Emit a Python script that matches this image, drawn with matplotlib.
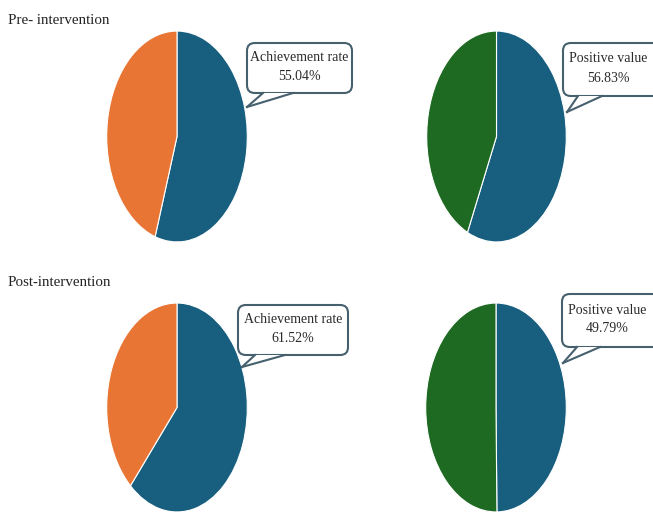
import matplotlib
matplotlib.use("Agg")
import matplotlib.pyplot as plt
from matplotlib.patches import FancyBboxPatch, Polygon
from matplotlib.lines import Line2D

# values (percent of the blue slice; the rest goes to the other slice)
phases = ["Pre- intervention", "Post-intervention"]
achievement = [55.04, 61.52]
positive = [56.83, 49.79]
labels = ["Achievement rate", "Positive value"]

BLUE = "#175e7f"
ORANGE = "#e87533"
GREEN = "#1e6a22"
EDGE = "#46606e"

W, H = 653, 514
fig = plt.figure(figsize=(W / 100, H / 100), dpi=100)
fig.patch.set_facecolor("white")
plt.rcParams["font.family"] = ["Liberation Serif", "DejaVu Serif"]


def px_axes(left, right, top, bottom):
    return fig.add_axes([left / W, 1 - bottom / H, (right - left) / W, (bottom - top) / H])


def callout(box, tip, base, lines):
    # box = (x0, x1, y0, y1) in pixels, y from top
    x0, x1, y0, y1 = box
    fx0, fx1 = x0 / W, x1 / W
    fy0, fy1 = 1 - y1 / H, 1 - y0 / H
    p = FancyBboxPatch((fx0, fy0), fx1 - fx0, fy1 - fy0,
                       boxstyle="round,pad=0,rounding_size=0.012",
                       transform=fig.transFigure, fc="white", ec=EDGE, lw=1.5,
                       mutation_aspect=W / H)
    fig.add_artist(p)
    tri = [(base[0] / W, 1 - y1 / H), (tip[0] / W, 1 - tip[1] / H), (base[1] / W, 1 - y1 / H)]
    fig.add_artist(Polygon(tri, closed=True, transform=fig.transFigure, fc="white", ec="none", zorder=3))
    for a in (tri[0], tri[2]):
        fig.add_artist(Line2D([a[0], tri[1][0]], [a[1], tri[1][1]], transform=fig.transFigure,
                              color=EDGE, lw=1.5, zorder=4))
    cx = (x0 + min(x1, W)) / 2 / W
    fig.text(cx, 1 - ((y0 + y1) / 2 - 1) / H, "\n".join(lines), ha="center", va="center",
             fontsize=10, color="#2a2a2a", linespacing=1.6, zorder=5)


pie_boxes = [
    [(106, 248, 30, 243), (426, 567, 30, 243)],
    [(106, 248, 302, 513), (425, 567, 302, 513)],
]
call_boxes = [
    [((247, 352, 43, 93), (247, 107), (263, 293)), ((563, 665, 43, 96), (567, 112), (578, 602))],
    [((238, 348, 305, 355), (242, 367), (255, 285)), ((562, 665, 294, 347), (563, 363), (577, 600))],
]
title_y = [20, 283]

for r in range(2):
    fig.text(8 / W, 1 - title_y[r] / H, phases[r], ha="left", va="center", fontsize=10.8, color="#222222")
    vals = [achievement[r], positive[r]]
    others = [ORANGE, GREEN]
    for c in range(2):
        ax = px_axes(*pie_boxes[r][c])
        ax.pie([vals[c], 100 - vals[c]], colors=[BLUE, others[c]], startangle=90,
               counterclock=False, wedgeprops=dict(edgecolor="white", linewidth=0.8))
        ax.set_aspect("auto")
        ax.set_xlim(-1.01, 1.01)
        ax.set_ylim(-1.01, 1.01)
        ax.axis("off")
        box, tip, base = call_boxes[r][c]
        callout(box, tip, base, [labels[c], f"{vals[c]:.2f}%"])

fig.savefig("out.png", dpi=100)
